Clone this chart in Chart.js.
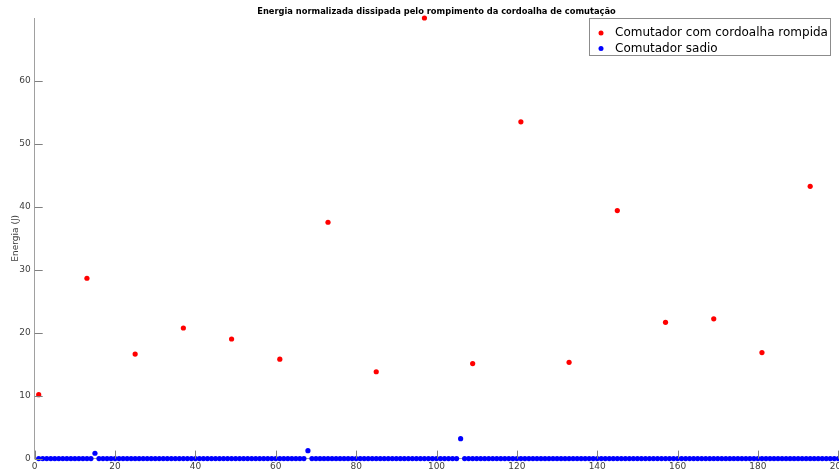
<!DOCTYPE html>
<html>
<head>
<meta charset="utf-8">
<script src="https://cdn.jsdelivr.net/npm/chart.js@4.4.1/dist/chart.umd.min.js"></script>
<style>
  html, body { margin: 0; padding: 0; background: #fff; overflow: hidden; width: 839px; height: 472px; }
  #wrap { position: absolute; left: 0; top: 0; width: 880px; height: 472px; }
</style>
</head>
<body>
<div id="wrap"><canvas id="c" width="880" height="472"></canvas></div>
<script>
// Chart text
const chartTitle = 'Energia normalizada dissipada pelo rompimento da cordoalha de comutação';
const yTitle = 'Energia (J)';
const seriesNames = ['Comutador com cordoalha rompida', 'Comutador sadio'];

// Tick labels
const xTicks = [0, 20, 40, 60, 80, 100, 120, 140, 160, 180, 200];
const yTicks = [0, 10, 20, 30, 40, 50, 60];

// Faulty switch: one switching event every 12 operations
const faultyX = [1, 13, 25, 37, 49, 61, 73, 85, 97, 109, 121, 133, 145, 157, 169, 181, 193];
const faultyE = [10.15, 28.65, 16.6, 20.75, 19.0, 15.8, 37.55, 13.8, 70.0, 15.1, 53.5, 15.3, 39.4, 21.65, 22.2, 16.85, 43.25];

// Healthy switch: operations 1..200
const healthyX = [
  1, 2, 3, 4, 5, 6, 7, 8, 9, 10, 11, 12, 13, 14, 15, 16, 17, 18, 19, 20,
  21, 22, 23, 24, 25, 26, 27, 28, 29, 30, 31, 32, 33, 34, 35, 36, 37, 38, 39, 40,
  41, 42, 43, 44, 45, 46, 47, 48, 49, 50, 51, 52, 53, 54, 55, 56, 57, 58, 59, 60,
  61, 62, 63, 64, 65, 66, 67, 68, 69, 70, 71, 72, 73, 74, 75, 76, 77, 78, 79, 80,
  81, 82, 83, 84, 85, 86, 87, 88, 89, 90, 91, 92, 93, 94, 95, 96, 97, 98, 99, 100,
  101, 102, 103, 104, 105, 106, 107, 108, 109, 110, 111, 112, 113, 114, 115, 116, 117, 118, 119, 120,
  121, 122, 123, 124, 125, 126, 127, 128, 129, 130, 131, 132, 133, 134, 135, 136, 137, 138, 139, 140,
  141, 142, 143, 144, 145, 146, 147, 148, 149, 150, 151, 152, 153, 154, 155, 156, 157, 158, 159, 160,
  161, 162, 163, 164, 165, 166, 167, 168, 169, 170, 171, 172, 173, 174, 175, 176, 177, 178, 179, 180,
  181, 182, 183, 184, 185, 186, 187, 188, 189, 190, 191, 192, 193, 194, 195, 196, 197, 198, 199, 200
];
const healthyE = [
  0, 0, 0, 0, 0, 0, 0, 0, 0, 0, 0, 0, 0, 0, 0.85, 0, 0, 0, 0, 0,
  0, 0, 0, 0, 0, 0, 0, 0, 0, 0, 0, 0, 0, 0, 0, 0, 0, 0, 0, 0,
  0, 0, 0, 0, 0, 0, 0, 0, 0, 0, 0, 0, 0, 0, 0, 0, 0, 0, 0, 0,
  0, 0, 0, 0, 0, 0, 0, 1.26, 0, 0, 0, 0, 0, 0, 0, 0, 0, 0, 0, 0,
  0, 0, 0, 0, 0, 0, 0, 0, 0, 0, 0, 0, 0, 0, 0, 0, 0, 0, 0, 0,
  0, 0, 0, 0, 0, 3.17, 0, 0, 0, 0, 0, 0, 0, 0, 0, 0, 0, 0, 0, 0,
  0, 0, 0, 0, 0, 0, 0, 0, 0, 0, 0, 0, 0, 0, 0, 0, 0, 0, 0, 0,
  0, 0, 0, 0, 0, 0, 0, 0, 0, 0, 0, 0, 0, 0, 0, 0, 0, 0, 0, 0,
  0, 0, 0, 0, 0, 0, 0, 0, 0, 0, 0, 0, 0, 0, 0, 0, 0, 0, 0, 0,
  0, 0, 0, 0, 0, 0, 0, 0, 0, 0, 0, 0, 0, 0, 0, 0, 0, 0, 0, 0
];

const FONT = 'DejaVu Sans';
const AXIS_COLOR = '#a0a0a0';
const TEXT_COLOR = '#404040';
const seriesColors = ['#ff0000', '#0000ff'];

const toPoints = (xs, ys) => xs.map((x, i) => ({ x: x, y: ys[i] }));

// Inward tick marks, title and boxed legend inside the axes
const decorations = {
  id: 'decorations',
  afterDraw(chart) {
    const ctx = chart.ctx;
    const area = chart.chartArea;
    const xs = chart.scales.x, ys = chart.scales.y;
    ctx.save();
    ctx.strokeStyle = '#808080';
    ctx.lineWidth = 1;
    ctx.beginPath();
    xTicks.forEach(v => {
      const px = Math.round(xs.getPixelForValue(v)) + 0.5;
      ctx.moveTo(px, area.bottom);
      ctx.lineTo(px, area.bottom - 8);
    });
    yTicks.forEach(v => {
      const py = Math.round(ys.getPixelForValue(v)) + 0.5;
      ctx.moveTo(area.left, py);
      ctx.lineTo(area.left + 8, py);
    });
    ctx.stroke();

    // title centred over the axes
    ctx.fillStyle = '#000';
    ctx.font = 'bold 8.3px "' + FONT + '"';
    ctx.textAlign = 'center';
    ctx.textBaseline = 'middle';
    ctx.fillText(chartTitle, (area.left + area.right) / 2, 12);

    // legend
    const bx = 589.5, by = 18.5, bw = 241, bh = 37;
    ctx.fillStyle = '#fff';
    ctx.fillRect(bx, by, bw, bh);
    ctx.strokeStyle = '#8c8c8c';
    ctx.strokeRect(bx, by, bw, bh);
    ctx.font = '12px "' + FONT + '"';
    ctx.textAlign = 'left';
    ctx.textBaseline = 'middle';
    chart.data.datasets.forEach((ds, i) => {
      const cy = 33 + i * 15.5;
      ctx.fillStyle = ds.backgroundColor;
      ctx.beginPath();
      ctx.arc(601, cy, 2.5, 0, Math.PI * 2);
      ctx.fill();
      ctx.fillStyle = '#000';
      ctx.fillText(ds.label, 615, cy);
    });
    ctx.restore();
  }
};

new Chart(document.getElementById('c'), {
  type: 'scatter',
  data: {
    datasets: [
      {
        label: seriesNames[0],
        data: toPoints(faultyX, faultyE),
        backgroundColor: seriesColors[0],
        borderColor: seriesColors[0],
        borderWidth: 0,
        pointRadius: 2.6,
        clip: false
      },
      {
        label: seriesNames[1],
        data: toPoints(healthyX, healthyE),
        backgroundColor: seriesColors[1],
        borderColor: seriesColors[1],
        borderWidth: 0,
        pointRadius: 2.6,
        clip: false
      }
    ]
  },
  options: {
    responsive: false,
    devicePixelRatio: 1,
    animation: false,
    layout: { padding: { top: 18, right: 41.7, left: 0, bottom: 0 } },
    plugins: {
      legend: { display: false },
      title: { display: false },
      tooltip: { enabled: false }
    },
    scales: {
      x: {
        type: 'linear',
        min: 0,
        max: 200,
        grid: { display: false, drawTicks: false, tickLength: 0 },
        border: { display: true, color: AXIS_COLOR, width: 1 },
        afterBuildTicks: s => { s.ticks = xTicks.map(v => ({ value: v })); },
        afterFit: s => { s.height = 13.4; },
        ticks: {
          autoSkip: false,
          maxRotation: 0,
          padding: 3,
          color: TEXT_COLOR,
          font: { family: FONT, size: 9 }
        }
      },
      y: {
        type: 'linear',
        min: 0,
        max: 70,
        grid: { display: false, drawTicks: false, tickLength: 0 },
        border: { display: true, color: AXIS_COLOR, width: 1 },
        afterBuildTicks: s => { s.ticks = yTicks.map(v => ({ value: v })); },
        afterFit: s => { s.width = 34.7; },
        ticks: {
          padding: 4,
          color: TEXT_COLOR,
          font: { family: FONT, size: 9 }
        },
        title: {
          display: true,
          text: yTitle,
          color: TEXT_COLOR,
          font: { family: FONT, size: 9 },
          padding: { top: 10, bottom: 0 }
        }
      }
    }
  },
  plugins: [decorations]
});
</script>
</body>
</html>
